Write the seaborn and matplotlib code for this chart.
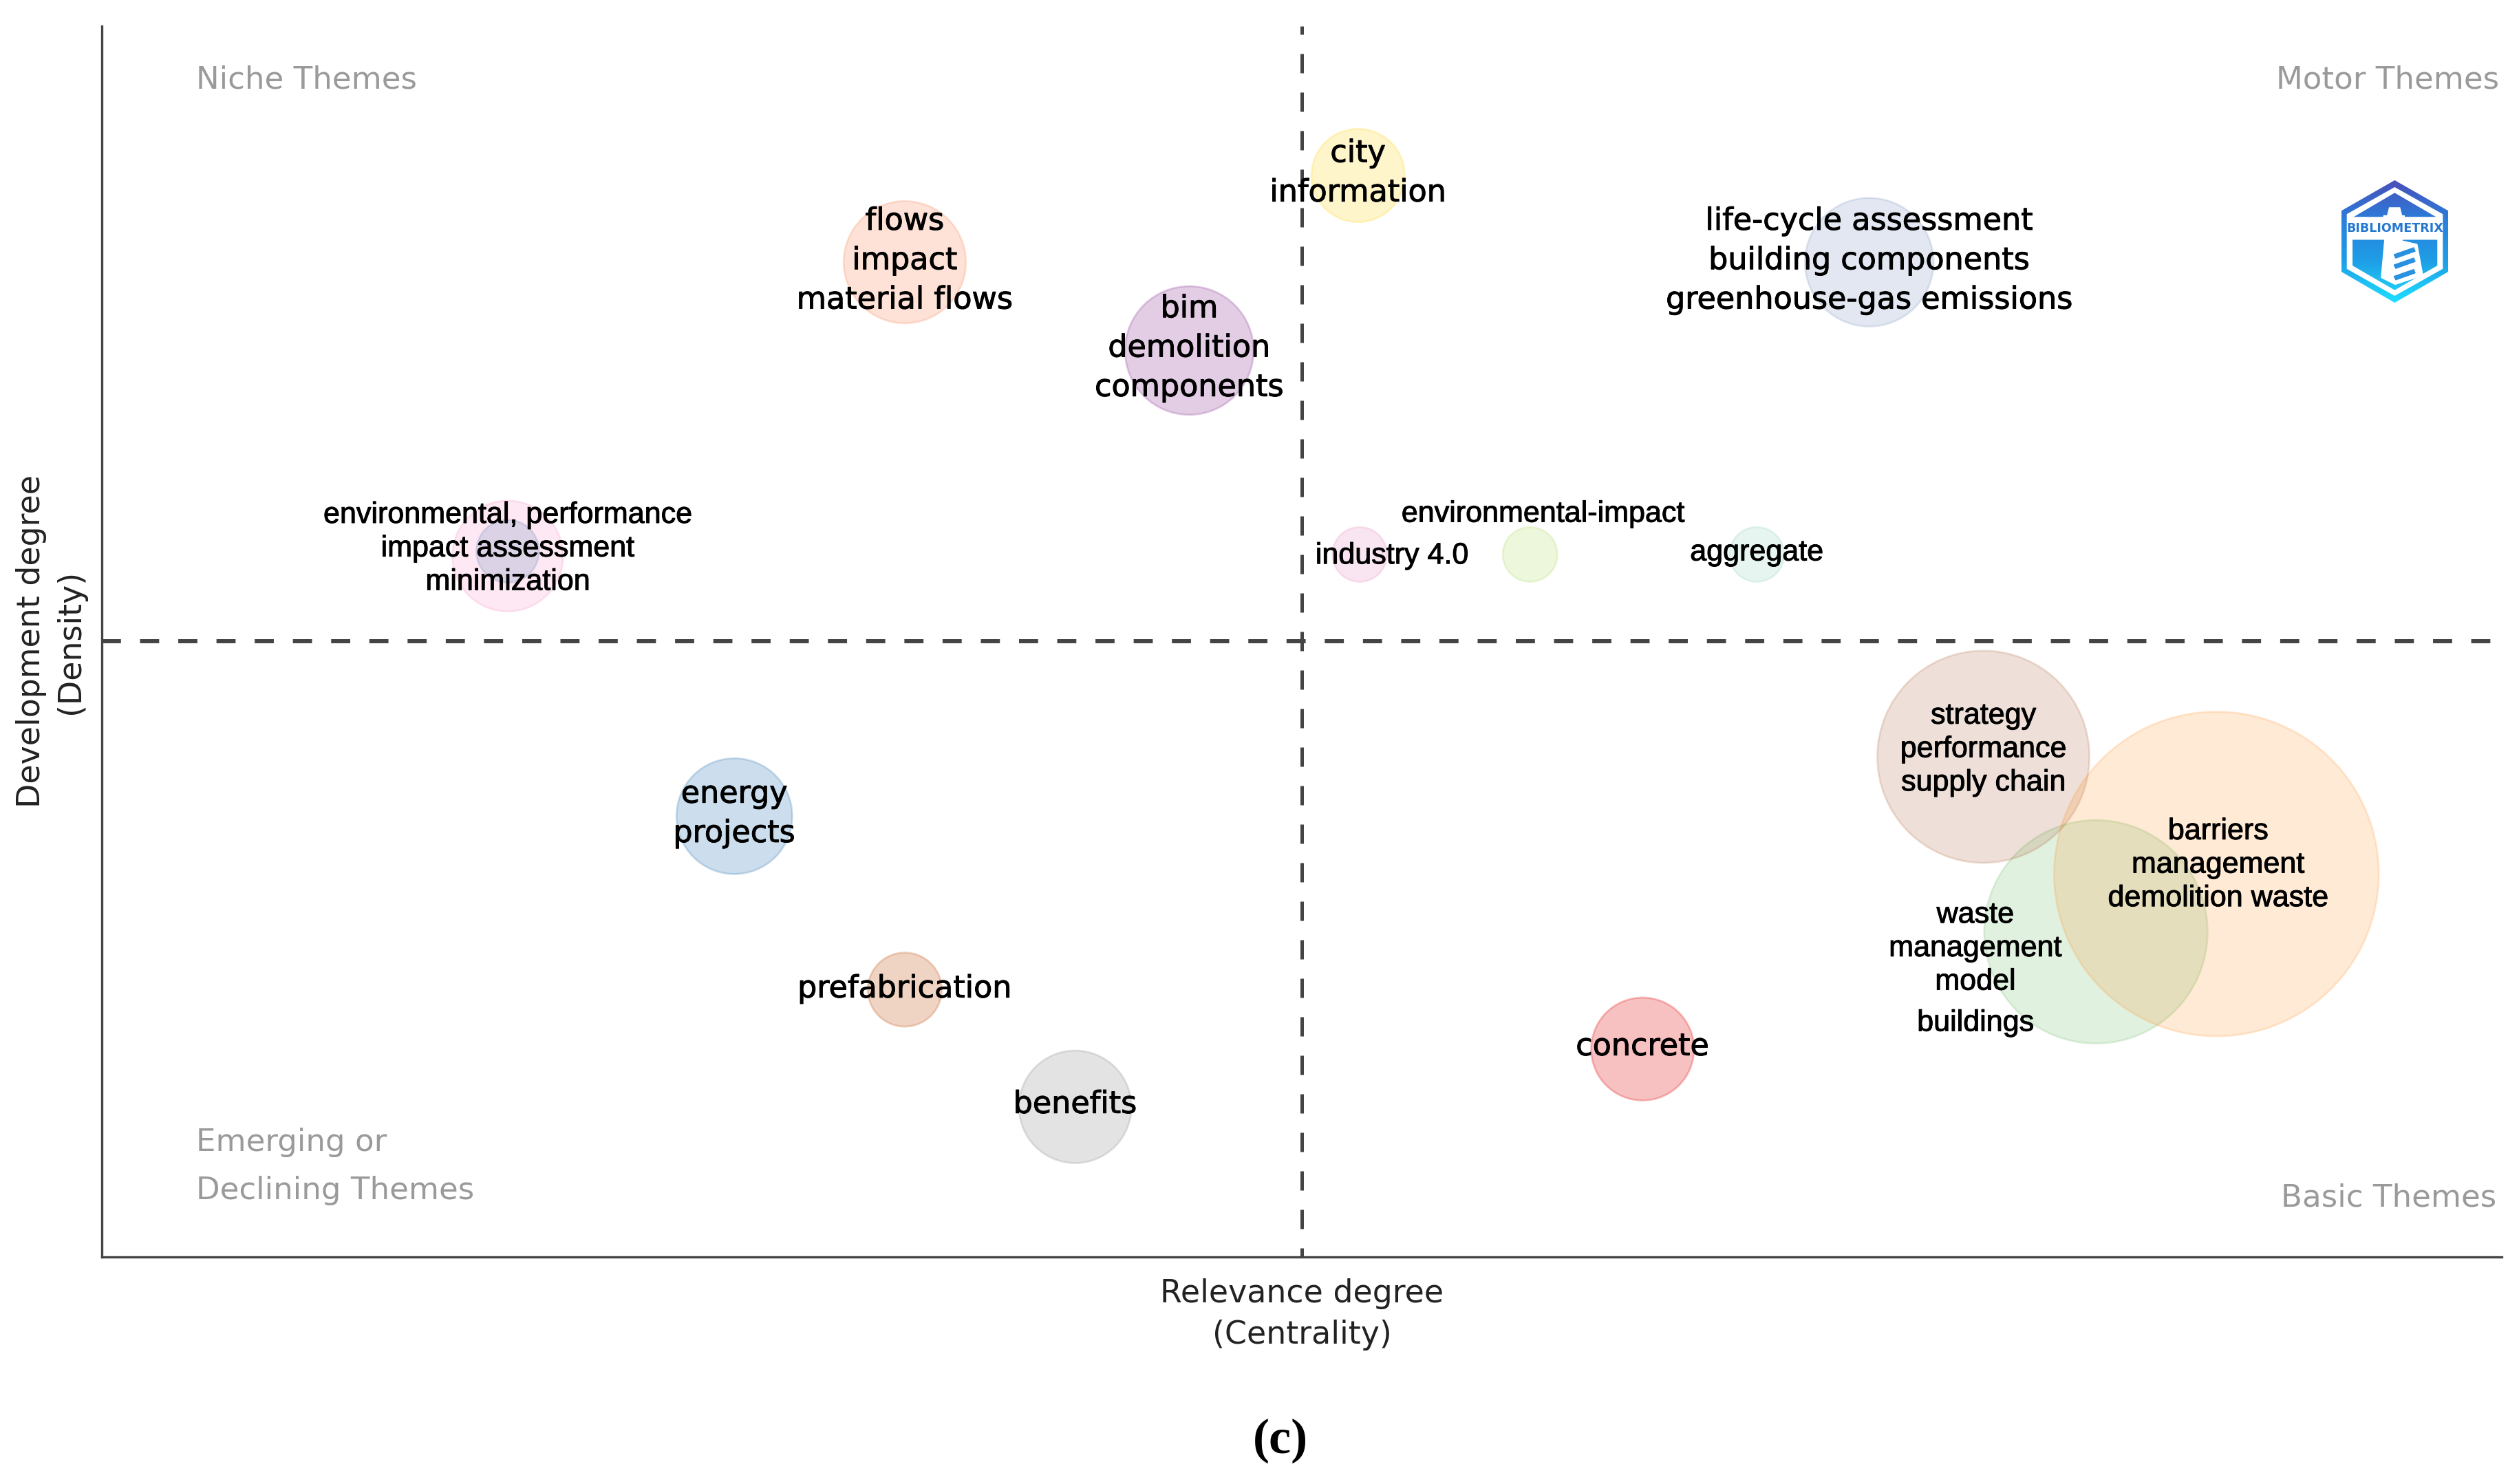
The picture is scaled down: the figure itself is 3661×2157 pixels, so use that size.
"""Thematic map (Bibliometrix style) with four quadrants."""

import numpy as np
import pandas as pd
import matplotlib
matplotlib.use("Agg")
import matplotlib.pyplot as plt
import matplotlib.patheffects as pe
from matplotlib.path import Path
from matplotlib.patches import PathPatch
from matplotlib.colors import LinearSegmentedColormap, to_rgba
import seaborn as sns

# ---------------------------------------------------------------------------
# Data (centre of the map is 0, 0)
# ---------------------------------------------------------------------------
THEMES = ["waste", "strategy", "barriers", "concrete", "energy", "prefab", "benefits",
          "flows", "city", "bim", "lifecycle", "env", "env_inner", "industry",
          "env_impact", "aggregate"]
CENTRALITY = [494, 424, 569, 212, -353, -247, -141,
              -247, 35, -70, 353, -494, -494, 36, 142, 283]
DENSITY = [-181, -72, -145, -254, -109, -217, -290,
           236, 290, 181, 236, 53, 56, 54, 54, 54]
DIAMETER = [139, 132, 202, 64, 72, 46, 70,
            76, 58, 80, 80, 69, 39, 34, 34, 34]
COLORS = ["#4DAF4A", "#A65628", "#FF7F00", "#E41A1C", "#377EB8", "#C9652B", "#999999",
          "#FC8D62", "#FFD92F", "#984EA3", "#8DA0CB", "#F781BF", "#8DA0CB", "#E78AC3",
          "#A6D854", "#66C2A5"]
FILL_ALPHA = [0.17, 0.18, 0.16, 0.27, 0.25, 0.28, 0.27,
              0.25, 0.25, 0.28, 0.25, 0.18, 0.3, 0.22,
              0.2, 0.16]

# text, x, y
SANS_LABELS = [
    ("flows\nimpact\nmaterial flows", -247, 237),
    ("city\ninformation", 35, 291.5),
    ("bim\ndemolition\ncomponents", -70, 182.5),
    ("life-cycle assessment\nbuilding components\ngreenhouse-gas emissions", 353, 237),
    ("energy\nprojects", -353, -107.5),
    ("prefabrication", -247, -216.5),
    ("benefits", -141, -288.5),
    ("concrete", 212, -252.5),
]
ARIAL_LABELS = [
    ("strategy\nperformance\nsupply chain", 424, -67.5),
    ("barriers\nmanagement\ndemolition waste", 570, -139.5),
    ("waste\nmanagement\nmodel", 419, -191.5),
    ("buildings", 419, -238),
    ("environmental, performance\nimpact assessment\nminimization", -494, 57.5),
    ("industry 4.0", 56, 53),
    ("environmental-impact", 150, 79),
    ("aggregate", 283, 55),
]
QUADRANTS = [
    ("Niche Themes", -688, 349.5, "left"),
    ("Motor Themes", 745, 349.5, "right"),
    ("Emerging or", -688, -312, "left"),
    ("Declining Themes", -688, -342, "left"),
    ("Basic Themes", 743, -346.5, "right"),
]

# figure pixels per map unit
UNIT_PX = 3662 / 1568
DPI = 100


def draw_logo(fig):
    # logo is worked out in pixels of a 362 x 450 crop scaled 3x
    lax = fig.add_axes([3403 / 3662, 1 - 440 / 2157, 155 / 3662, 178 / 2157])
    lax.set_xlim(312, 775)
    lax.set_ylim(1170, 635)
    lax.axis("off")

    shapes = [
        [(543, 635), (775, 768), (775, 1035), (543, 1170), (312, 1035), (312, 768)],
        [(543, 665), (335, 783), (335, 1022), (543, 1140), (752, 1022), (752, 783)],
        [(543, 690), (722, 795), (365, 795)],
        [(360, 895), (728, 895), (728, 1008), (543, 1115), (360, 1008)],
    ]
    verts, codes = [], []
    for shape in shapes:
        verts += shape + [shape[0]]
        codes += [Path.MOVETO] + [Path.LINETO] * (len(shape) - 1) + [Path.CLOSEPOLY]
    clip = PathPatch(Path(verts, codes), transform=lax.transData, fc="none", ec="none")
    lax.add_patch(clip)

    cmap = LinearSegmentedColormap.from_list("logo", ["#4A4FB8", "#2A80DC", "#1E9FE6", "#1FE0FF"])
    grad = np.linspace(0, 1, 256).reshape(-1, 1)
    img = lax.imshow(grad, cmap=cmap, extent=(312, 775, 1170, 635), aspect="auto")
    img.set_clip_path(clip)

    # lighthouse in white
    lax.fill([495, 585, 575, 640, 665, 545, 485, 500], [790, 790, 900, 915, 1050, 1090, 1060, 890],
             color="white", zorder=3)
    lax.fill([505, 580, 565, 520], [815, 815, 755, 755], color="white", zorder=3)
    for y0 in [945, 990, 1040]:
        lax.fill([540, 625, 632, 548], [y0 + 15, y0 - 15, y0, y0 + 30], color="#2A90E0", zorder=4)
    lax.text(543, 845, "BIBLIOMETRIX", ha="center", va="center", fontsize=12.6,
             fontweight="bold", color="#2478D2", family="DejaVu Sans", zorder=5)


def main():
    sns.set_style("white")
    plt.rcParams["font.family"] = ["DejaVu Sans"]

    df = pd.DataFrame({"theme": THEMES, "centrality": CENTRALITY, "density": DENSITY})
    sizes = {t: (d * UNIT_PX * 72 / DPI) ** 2 for t, d in zip(THEMES, DIAMETER)}
    palette = {t: to_rgba(c, a) for t, c, a in zip(THEMES, COLORS, FILL_ALPHA)}

    fig = plt.figure(figsize=(36.62, 21.57), dpi=DPI)
    ax = fig.add_axes([148 / 3662, 1 - 1827 / 2157, (3636 - 148) / 3662, (1827 - 38) / 2157])

    sns.scatterplot(data=df, x="centrality", y="density", hue="theme", size="theme",
                    palette=palette, sizes=sizes, edgecolor="face",
                    linewidth=2, legend=False, ax=ax, zorder=2)

    ax.set_xlim(-746.5, 746.5)
    ax.set_ylim(-383.5, 383)
    ax.axhline(0, color="#444444", lw=4.3, dashes=(4.65, 4.65), zorder=1)
    # offset so a short dash sits on the x axis and another at the very top
    ax.axvline(0, color="#444444", lw=3.6, ls=(3, (5.6, 5.6)), zorder=1)

    sns.despine(ax=ax)
    for side in ["left", "bottom"]:
        ax.spines[side].set_color("#444444")
        ax.spines[side].set_linewidth(2.4)
    ax.set_xticks([])
    ax.set_yticks([])

    heavier = [pe.withStroke(linewidth=0.7, foreground="black")]
    for txt, x, y in SANS_LABELS:
        ax.text(x, y, txt, ha="center", va="center", fontsize=32, color="black",
                linespacing=1.42, zorder=5, path_effects=heavier)
    for txt, x, y in ARIAL_LABELS:
        ax.text(x, y, txt, ha="center", va="center", fontsize=31, color="black",
                family="Liberation Sans", linespacing=1.28, zorder=5, path_effects=heavier)
    for txt, x, y, ha in QUADRANTS:
        ax.text(x, y, txt, ha=ha, va="center", fontsize=32.5, color="#9A9A9A", zorder=5)

    ax.set_xlabel("Relevance degree\n(Centrality)", fontsize=33, color="#222222", linespacing=1.42)
    ax.xaxis.set_label_coords(0.5, -0.0175, transform=ax.transAxes)
    ax.xaxis.label.set_verticalalignment("top")
    ax.set_ylabel("Development degree\n(Density)", fontsize=33, color="#222222", linespacing=1.36)
    ax.yaxis.set_label_coords(-0.0065, 0.5, transform=ax.transAxes)
    ax.yaxis.label.set_verticalalignment("bottom")

    fig.text(797 / 1568, 1 - 897 / 924, "(c)", ha="center", va="center", fontsize=52,
             fontweight="bold", family="Liberation Serif", color="black")

    draw_logo(fig)
    fig.savefig("out.png", dpi=DPI, facecolor="white")
    plt.close(fig)


if __name__ == "__main__":
    main()
